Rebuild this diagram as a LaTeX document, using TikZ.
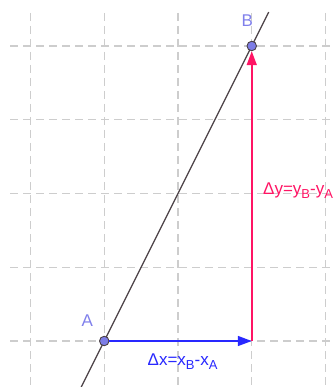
\documentclass[tikz,border=0pt]{standalone}
\usepackage{fontspec}
\setmainfont{Liberation Sans}
\usetikzlibrary{arrows.meta,calc}
\definecolor{gridc}{RGB}{205,205,205}
\definecolor{ptc}{RGB}{125,125,230}
\definecolor{lblc}{RGB}{128,128,235}
\definecolor{dxc}{RGB}{40,40,255}
\definecolor{dyc}{RGB}{255,20,100}
\definecolor{linec}{RGB}{75,65,70}
\tikzset{
  gridline/.style={draw=gridc, line width=1.1pt, dash pattern=on 8pt off 5pt},
  pt/.style={circle, draw=linec, fill=ptc, line width=0.9pt, minimum size=9.5pt, inner sep=0pt},
  ptlabel/.style={text=lblc, font=\fontsize{17}{17}\selectfont, inner sep=0pt},
  deltalabel/.style={anchor=base west, inner sep=0pt, font=\fontsize{17}{17}\selectfont},
  vec/.style={line width=1.6pt, -{Triangle[length=14pt,width=10pt]}}
}
\newcommand{\sbx}[1]{\raisebox{-4.5pt}{\fontsize{13}{13}\selectfont #1}}
\begin{document}
\begin{tikzpicture}[x=1pt,y=-1pt]
\useasboundingbox (0,0) rectangle (334,387);
% grid
\foreach \gx in {30.5,104.25,178,251.75,325.5}
  \draw[gridline] (\gx,13) -- (\gx,387);
\foreach \gy in {46,119.75,193.5,267.25,341}
  \draw[gridline] (10,\gy) -- (334,\gy);
% points
\coordinate (A) at (104.25,341);
\coordinate (B) at (251.75,46);
\coordinate (C) at (251.75,341);
\coordinate (L1) at ($(A)!-0.16!(B)$);
\coordinate (L2) at ($(A)!1.115!(B)$);
\draw[linec, line width=1.3pt] (L1) -- (L2);
\node[pt] (pA) at (A) {};
\node[pt] (pB) at (B) {};
\draw[vec, draw=dxc, fill=dxc] (pA) -- (C);
\draw[vec, draw=dyc, fill=dyc] (C) -- (pB);
\node[ptlabel, anchor=base west] (lA) at (81.5,326) {A};
\node[ptlabel, anchor=base west] (lB) at (241.5,27) {B};
\node[text=dxc, deltalabel] (ldx) at (147.5,365) {Δx=x\sbx{B}-x\sbx{A}};
\node[text=dyc, deltalabel] (ldy) at (263,194) {Δy=y\sbx{B}-y\sbx{A}};
\end{tikzpicture}
\end{document}
